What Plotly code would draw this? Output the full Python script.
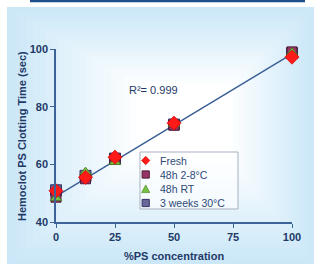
import plotly.graph_objects as go

# ---- data ----
conc = [0, 12.5, 25, 50, 100]
fresh = [50.8, 55.5, 62.5, 74.3, 97.2]
cold_48h = [48.6, 55.0, 61.8, 73.6, 99.0]
rt_48h = [48.3, 57.3, 60.8, 74.0, 98.7]
weeks3_30c = [51.0, 56.0, 62.0, 73.8, 98.6]
trend_x = [0, 100]
trend_y = [48.9, 98.3]
x_ticks = [0, 25, 50, 75, 100]
y_ticks = [40, 60, 80, 100]
series_names = ["Fresh", "48h 2-8°C", "48h RT", "3 weeks 30°C"]

W, H = 314, 264
navy = "#1f3a68"
axis_col = "#3d6399"

fig = go.Figure()

def px(x):
    return x / W

def py(y):
    return 1 - y / H

# Background panel with a rectangular "from centre" gradient
shapes = []
shapes.append(dict(type="rect", xref="paper", yref="paper",
                   x0=px(7), x1=1, y0=0, y1=py(7),
                   fillcolor="#cbe7f8", line_width=0, layer="below"))
outer = (7, 7, 314, 264)
cx, cy = 188, 118
inner = (cx - 25, cy - 18, cx + 25, cy + 18)
N = 24
c0 = (203, 231, 248)
c1 = (255, 255, 255)
for i in range(1, N + 1):
    t = i / N
    l = outer[0] + (inner[0] - outer[0]) * t
    tp = outer[1] + (inner[1] - outer[1]) * t
    r = outer[2] + (inner[2] - outer[2]) * t
    b = outer[3] + (inner[3] - outer[3]) * t
    tt = min(1.0, t * 1.2)
    col = tuple(round(c0[k] + (c1[k] - c0[k]) * tt) for k in range(3))
    shapes.append(dict(type="rect", xref="paper", yref="paper",
                       x0=px(l), x1=px(r), y0=py(b), y1=py(tp),
                       fillcolor="rgb(%d,%d,%d)" % col, line_width=0, layer="below"))
# top dark rule
shapes.append(dict(type="line", xref="paper", yref="paper",
                   x0=px(30), x1=px(305), y0=py(1), y1=py(1),
                   line=dict(color="#1f4e8c", width=2.5)))

fig.add_trace(go.Scatter(x=trend_x, y=trend_y, mode="lines",
                         line=dict(color="#3a5f95", width=1.3),
                         showlegend=False, hoverinfo="skip", cliponaxis=False))

styles = {
    "Fresh": dict(symbol="diamond", size=11, color="#ff1a1a", line=dict(color="#cc0000", width=0.6)),
    "48h 2-8°C": dict(symbol="square", size=10, color="#993366", line=dict(color="#4d1a33", width=1)),
    "48h RT": dict(symbol="triangle-up", size=10, color="#77c043", line=dict(color="#3f7f1f", width=0.8)),
    "3 weeks 30°C": dict(symbol="square", size=11, color="#666699", line=dict(color="#333366", width=1)),
}
values = {"Fresh": fresh, "48h 2-8°C": cold_48h, "48h RT": rt_48h, "3 weeks 30°C": weeks3_30c}

# draw order: bottom to top
for name in ["3 weeks 30°C", "48h 2-8°C", "48h RT", "Fresh"]:
    fig.add_trace(go.Scatter(x=conc, y=values[name], mode="markers", name=name,
                             showlegend=False, cliponaxis=False, marker=styles[name]))

fig.add_annotation(x=41.5, y=85.8, xref="x", yref="y", text="R²= 0.999",
                   showarrow=False, font=dict(size=11, color=navy))

# y axis title as rotated text
fig.add_annotation(x=px(22), y=py(136), xref="paper", yref="paper",
                   text="Hemoclot PS Clotting Time (sec)", textangle=-90,
                   showarrow=False, xanchor="center", yanchor="middle",
                   font=dict(size=11, color=navy, weight="bold"))

# ---- compact legend (box, swatches, labels) ----
lx0, lx1, ly0, ly1 = 140, 238, 152, 209
shapes.append(dict(type="rect", xref="paper", yref="paper",
                   x0=px(lx0), x1=px(lx1), y0=py(ly1), y1=py(ly0),
                   fillcolor="rgba(255,255,255,0.55)", line=dict(color="#a8b0c0", width=1)))
row_y = [160.5, 174.5, 189, 203]
sw_x = 145.7
for name, yy in zip(series_names, row_y):
    st = styles[name]
    s = 3.6
    if st["symbol"] == "diamond":
        path = "M %f %f L %f %f L %f %f L %f %f Z" % (
            px(sw_x), py(yy - s - 0.6), px(sw_x + s + 0.6), py(yy),
            px(sw_x), py(yy + s + 0.6), px(sw_x - s - 0.6), py(yy))
        shapes.append(dict(type="path", xref="paper", yref="paper", path=path,
                           fillcolor=st["color"], line=dict(color=st["line"]["color"], width=0.6)))
    elif st["symbol"] == "triangle-up":
        path = "M %f %f L %f %f L %f %f Z" % (
            px(sw_x), py(yy - s - 0.5), px(sw_x + s + 0.5), py(yy + s),
            px(sw_x - s - 0.5), py(yy + s))
        shapes.append(dict(type="path", xref="paper", yref="paper", path=path,
                           fillcolor=st["color"], line=dict(color=st["line"]["color"], width=0.6)))
    else:
        shapes.append(dict(type="rect", xref="paper", yref="paper",
                           x0=px(sw_x - s), x1=px(sw_x + s), y0=py(yy + s), y1=py(yy - s),
                           fillcolor=st["color"], line=dict(color=st["line"]["color"], width=1)))
    fig.add_annotation(x=px(157.5), y=py(yy), xref="paper", yref="paper", text=name,
                       xanchor="left", yanchor="middle", showarrow=False,
                       font=dict(size=10.5, color="#2d4a78"))

fig.update_layout(
    width=W, height=H,
    margin=dict(l=0, r=0, t=0, b=0),
    paper_bgcolor="white", plot_bgcolor="rgba(0,0,0,0)",
    font=dict(family="Liberation Sans, Arial, sans-serif", color=navy),
    shapes=shapes,
    showlegend=False,
    xaxis=dict(domain=[px(56), px(292)], range=[0, 100], tickvals=x_ticks,
               showgrid=False, zeroline=False, showline=True, linecolor=axis_col,
               linewidth=1.5, ticks="outside", ticklen=4, tickcolor=axis_col,
               tickfont=dict(size=11, color=navy, weight="bold"), automargin=False,
               title=dict(text="%PS concentration", font=dict(size=11, color=navy, weight="bold"),
                          standoff=10)),
    yaxis=dict(domain=[py(222), py(49)], range=[40, 100], tickvals=y_ticks,
               showgrid=False, zeroline=False, showline=True, linecolor=axis_col,
               linewidth=1.5, ticks="outside", ticklen=4, tickcolor=axis_col,
               tickfont=dict(size=11, color=navy, weight="bold"), automargin=False),
)

fig.write_html("out.html", post_script="document.body.style.margin='0';",
               config={"displayModeBar": False})
